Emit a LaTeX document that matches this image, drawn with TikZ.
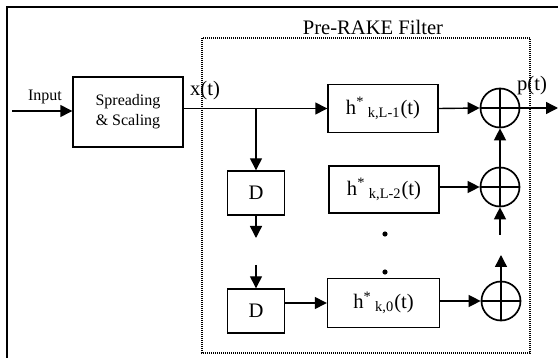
\documentclass[tikz,border=0pt]{standalone}
\usepackage{fontspec}
\setmainfont{Liberation Serif}
\usetikzlibrary{arrows.meta}
\begin{document}
\begin{tikzpicture}[x=0.5pt,y=-0.5pt,
  blk/.style={draw, line width=0.7pt, inner sep=0pt, font=\fontsize{10.3}{12}\selectfont},
  small/.style={font=\fontsize{8}{9.6}\selectfont},
  big/.style={font=\fontsize{10.3}{12}\selectfont},
  adder/.style={draw, circle, line width=0.85pt, minimum size=19.5pt, inner sep=0pt},
  arr/.style={line width=0.7pt, -{Triangle[length=6pt,width=6pt]}},
  ln/.style={line width=0.7pt},
  frame/.style={line width=1pt},
  filt/.style={line width=0.6pt, dash pattern=on 0.5pt off 0.5pt}]
\useasboundingbox (0,0) rectangle (558,358);
% outer frame
\draw[frame] (7,360) -- (7,7) -- (560,7);
% pre-rake dotted box
\draw[filt] (202,38) rectangle (530,353);
\node[big, anchor=base] (title) at (373,35) {Pre-RAKE Filter};
% blocks
\node[blk, minimum width=55pt, minimum height=35pt, align=center,
      font=\fontsize{8}{10}\selectfont] (spread) at (128,112) {Spreading\\\& Scaling};
\node[blk, minimum width=55pt, minimum height=24pt] (hL1) at (383,108.5)
  {h\textsuperscript{*}\,\textsubscript{k,L-1}(t)};
\node[blk, minimum width=55pt, minimum height=23.5pt] (hL2) at (384,189.5)
  {h\textsuperscript{*}\,\textsubscript{k,L-2}(t)};
\node[blk, minimum width=56pt, minimum height=24.5pt] (h0) at (383.5,303)
  {h\textsuperscript{*}\,\textsubscript{k,0}(t)};
\node[blk, minimum width=28.5pt, minimum height=22pt] (D1) at (256,193) {D};
\node[blk, minimum width=28.5pt, minimum height=22pt] (D2) at (256,311) {D};
% adders
\node[adder] (a1) at (500,108) {};
\node[adder] (a2) at (500,187) {};
\node[adder] (a3) at (501,301) {};
\foreach \a in {a1,a2,a3}{
  \draw[line width=0.85pt] (\a.north) -- (\a.south);
  \draw[line width=0.85pt] (\a.west) -- (\a.east);
}
% dots
\node[circle, fill, inner sep=0pt, minimum size=2.6pt] (dot1) at (385,234) {};
\node[circle, fill, inner sep=0pt, minimum size=2.6pt] (dot2) at (385,272) {};
% labels
\node[small, anchor=base] (inlbl) at (45,101) {Input};
\node[big, anchor=base] (xlbl) at (205,96) {x(t)};
\node[big, anchor=base] (plbl) at (532,91) {p(t)};
% coordinates
\coordinate (in) at (12,111);
\coordinate (br) at (D1 |- hL1.west);
\coordinate (d1end) at (256,238);
\coordinate (d2start) at (256,265);
\coordinate (a2below) at (500,235);
\coordinate (a3above) at (501,255);
\coordinate (out) at (558,108);
% connectors
\draw[arr] (in) -- (spread.west |- in);
\draw[arr] (spread.east |- hL1.west) -- (hL1.west);
\draw[arr] (br) -- (D1.north);
\draw[arr] (D1.south) -- (d1end);
\draw[arr] (d2start) -- (D2.north);
\draw[arr] (D2.east |- h0.west) -- (h0.west);
\draw[arr] (hL1.east) -- (a1.west);
\draw[arr] (hL2.east |- a2.west) -- (a2.west);
\draw[arr] (h0.east |- a3.west) -- (a3.west);
\draw[arr] (a2.north) -- (a1.south);
\draw[arr] (a2below) -- (a2.south);
\draw[arr] (a3.north) -- (a3above);
\draw[arr] (a1.east) -- (out);
\end{tikzpicture}
\end{document}
